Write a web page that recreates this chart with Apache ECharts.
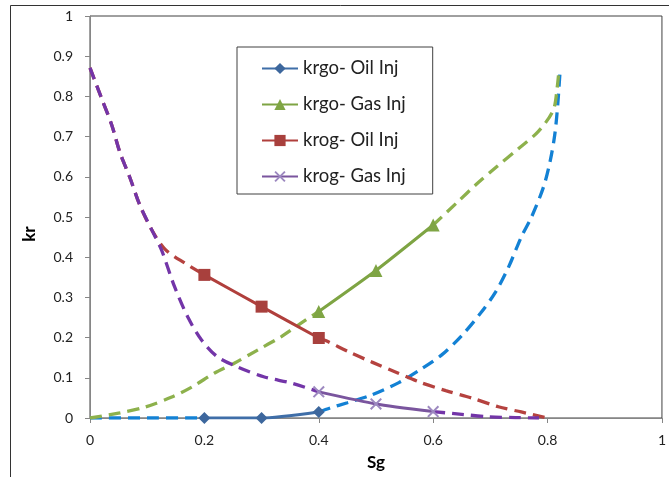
<!DOCTYPE html>
<html>
<head>
<meta charset="utf-8">
<script src="https://cdn.jsdelivr.net/npm/echarts@6/dist/echarts.min.js"></script>
<style>html,body{margin:0;padding:0;background:#fff}#c{width:669px;height:477px}</style>
</head>
<body>
<div id="c"></div>
<script>
// Measured points (solid lines with markers)
const krgoOilInj = [[0.2, 0], [0.3, 0], [0.4, 0.015]];
const krgoGasInj = [[0.4, 0.265], [0.5, 0.367], [0.6, 0.48]];
const krogOilInj = [[0.2, 0.356], [0.3, 0.277], [0.4, 0.199]];
const krogGasInj = [[0.4, 0.065], [0.5, 0.035], [0.6, 0.016]];

// Fitted curves (dashed), null = gap where the measured line is drawn
const krgoOilFit = [[0, 0], [0.1, 0], [0.2, 0], null, [0.4, 0.015], [0.42, 0.025], [0.45, 0.038], [0.49, 0.056], [0.54, 0.088], [0.575, 0.118], [0.615, 0.157], [0.65, 0.205], [0.683, 0.261], [0.709, 0.313], [0.732, 0.376], [0.754, 0.45], [0.772, 0.5], [0.793, 0.575], [0.805, 0.642], [0.813, 0.709], [0.818, 0.783], [0.822, 0.866]];
const krgoGasFit = [[0, 0], [0.05, 0.012], [0.096, 0.027], [0.143, 0.052], [0.178, 0.077], [0.218, 0.112], [0.253, 0.137], [0.293, 0.169], [0.334, 0.202], [0.369, 0.236], [0.4, 0.265], null, [0.6, 0.48], [0.641, 0.535], [0.676, 0.582], [0.711, 0.625], [0.749, 0.67], [0.784, 0.713], [0.81, 0.766], [0.817, 0.824], [0.82, 0.866]];
const krogOilFit = [[0, 0.871], [0.02, 0.796], [0.038, 0.729], [0.052, 0.662], [0.07, 0.597], [0.087, 0.53], [0.108, 0.468], [0.131, 0.42], [0.166, 0.385], [0.2, 0.356], null, [0.4, 0.199], [0.413, 0.192], [0.453, 0.164], [0.493, 0.139], [0.535, 0.114], [0.575, 0.09], [0.622, 0.068], [0.667, 0.05], [0.714, 0.028], [0.754, 0.015], [0.8, 0]];
const krogGasFit = [[0, 0.871], [0.02, 0.796], [0.038, 0.729], [0.052, 0.662], [0.07, 0.597], [0.087, 0.53], [0.108, 0.468], [0.125, 0.418], [0.148, 0.326], [0.171, 0.251], [0.195, 0.194], [0.223, 0.152], [0.258, 0.127], [0.305, 0.102], [0.352, 0.087], [0.4, 0.065], null, [0.6, 0.016], [0.65, 0.009], [0.697, 0.003], [0.744, 0.001], [0.785, 0]];

const seriesNames = ['krgo- Oil Inj', 'krgo- Gas Inj', 'krog- Oil Inj', 'krog- Gas Inj'];
const xTicks = [0, 0.2, 0.4, 0.6, 0.8, 1];

const crossPath = 'path://M0,1.2L1.2,0L5,3.8L8.8,0L10,1.2L6.2,5L10,8.8L8.8,10L5,6.2L1.2,10L0,8.8L3.8,5Z';
const font = 'Lato, "Open Sans", sans-serif';

function dashed(name, data, color) {
  return {
    name: name, type: 'line', data: data, smooth: 0.3,
    showSymbol: false, symbol: 'none', connectNulls: false, z: 2, silent: true,
    lineStyle: { color: color, width: 3.3, type: [12, 7], cap: 'butt' }
  };
}
function solid(name, data, color, symbol, size, mcolor) {
  return {
    name: name, type: 'line', data: data, smooth: 0.2, z: 3,
    symbol: symbol, symbolSize: size, showSymbol: true,
    lineStyle: { color: color, width: 3 },
    itemStyle: { color: mcolor || color, borderWidth: 0 }
  };
}

const chart = echarts.init(document.getElementById('c'), null, { renderer: 'canvas' });
chart.setOption({
  animation: false,
  backgroundColor: '#fff',
  textStyle: { fontFamily: font },
  graphic: [{
    type: 'rect', shape: { x: 10.5, y: 5.5, width: 700, height: 500 }, silent: true, z: -10,
    style: { fill: 'none', stroke: '#333', lineWidth: 1 }
  }],
  grid: { left: 90, top: 16, right: 5, bottom: 59, show: true, borderColor: '#404040', borderWidth: 1 },
  legend: {
    data: seriesNames, orient: 'vertical', left: 237, top: 47,
    padding: [12, 27, 8, 24], itemGap: 17, itemWidth: 36, itemHeight: 14,
    borderColor: '#404040', borderWidth: 1, backgroundColor: '#fff',
    textStyle: { fontFamily: font, fontSize: 18.5, lineHeight: 16, color: '#222' }
  },
  xAxis: {
    type: 'value', min: 0, max: 1, interval: 0.2,
    name: 'Sg', nameLocation: 'middle', nameGap: 36, nameMoveOverlap: false,
    nameTextStyle: { fontFamily: font, fontSize: 17, fontWeight: 'bold', color: '#000' },
    axisLine: { lineStyle: { color: '#868686' } },
    axisTick: { show: true, length: 5, lineStyle: { color: '#868686' } },
    splitLine: { show: false },
    axisLabel: { margin: 15, fontSize: 14, color: '#222', fontFamily: font,
      formatter: v => String(xTicks.find(t => Math.abs(t - v) < 1e-9) ?? v) }
  },
  yAxis: {
    type: 'value', min: 0, max: 1, interval: 0.1,
    name: 'kr', nameLocation: 'middle', nameGap: 52, nameMoveOverlap: false,
    nameTextStyle: { fontFamily: font, fontSize: 17, fontWeight: 'bold', color: '#000', padding: [0, 34, 0, 0] },
    axisLine: { show: true, lineStyle: { color: '#868686' } },
    axisTick: { show: true, length: 5, lineStyle: { color: '#868686' } },
    splitLine: { show: false },
    axisLabel: { margin: 17, fontSize: 14, color: '#222', fontFamily: font,
      formatter: v => String(Math.round(v * 10) / 10) }
  },
  series: [
    dashed('fit1', krgoOilFit, '#1381d4'),
    dashed('fit2', krgoGasFit, '#8db14c'),
    dashed('fit3', krogOilFit, '#b5423f'),
    dashed('fit4', krogGasFit, '#7335a8'),
    solid(seriesNames[0], krgoOilInj, '#3f6ea8', 'diamond', 12, '#3d679d'),
    solid(seriesNames[1], krgoGasInj, '#7ea443', 'triangle', 13, '#7fa544'),
    solid(seriesNames[2], krogOilInj, '#b03f3c', 'rect', 12, '#a8403d'),
    solid(seriesNames[3], krogGasInj, '#7a559e', crossPath, 12, '#9d89c0')
  ]
});
</script>
</body>
</html>
